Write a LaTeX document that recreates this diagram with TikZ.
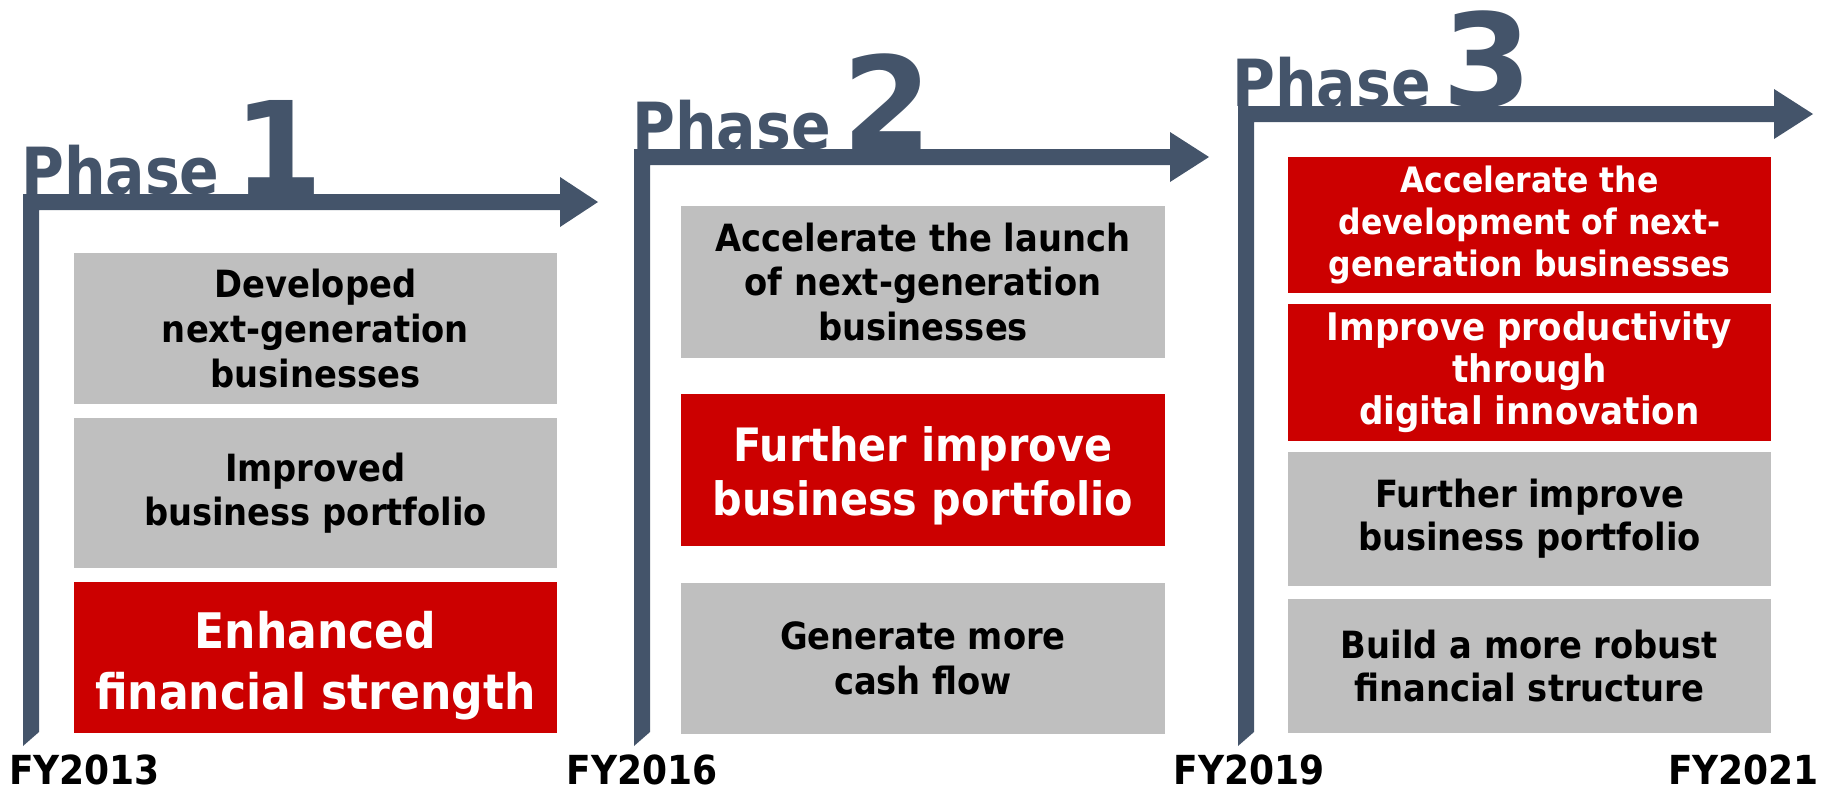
\documentclass[tikz,border=0pt]{standalone}
\usepackage{fontspec}
\setmainfont{DejaVu Sans Condensed}[BoldFont={DejaVu Sans Condensed Bold}]
\newfontfamily\widefont{DejaVu Sans}
\definecolor{navy}{HTML}{44546A}
\definecolor{redbox}{HTML}{CC0000}
\definecolor{graybox}{HTML}{BFBFBF}
\tikzset{
 box/.style={minimum width=483pt, inner sep=0pt, align=center, font=\bfseries\fontsize{37.5}{44.7}\selectfont},
 graybx/.style={box, fill=graybox, text=black},
 redbx/.style={box, fill=redbox, text=white},
 boxtxt/.style={inner sep=0pt, align=center, text=white},
 phasetxt/.style={anchor=base west, inner sep=0pt, text=navy, font=\bfseries\fontsize{65}{70}\selectfont},
 phasenum/.style={anchor=base west, inner sep=0pt, text=navy, font=\widefont\bfseries\fontsize{129}{130}\selectfont},
 fylbl/.style={anchor=base, inner sep=0pt, text depth=0pt, font=\bfseries\fontsize{40}{42}\selectfont},
 barshape/.style={fill=navy, draw=none}
}
\begin{document}
\begin{tikzpicture}[x=1pt,y=-1pt]
\path[use as bounding box] (0,0) rectangle (1822,790);
% Phase arrows
\fill[barshape] (23,746) -- (23,194) -- (560,194) -- (560,177) -- (598,202) -- (560,227) -- (560,210) -- (39,210) -- (39,732) -- cycle;
\fill[barshape] (634,746) -- (634,149) -- (1170,149) -- (1170,132) -- (1209,157) -- (1170,182) -- (1170,165) -- (650,165) -- (650,732) -- cycle;
\fill[barshape] (1238,746) -- (1238,106) -- (1774,106) -- (1774,89) -- (1813,114) -- (1774,139) -- (1774,122) -- (1254,122) -- (1254,732) -- cycle;
% Phase headings
\node[phasetxt] (ph1) at (21,194) {Phase};
\node[phasenum] (n1) at (233,194) {1};
\node[phasetxt] (ph2) at (632,149) {Phase};
\node[phasenum] (n2) at (842,149) {2};
\node[phasetxt] (ph3) at (1232,106) {Phase};
\node[phasenum] (n3) at (1442,106) {3};
% Phase 1 boxes
\node[graybx, minimum height=151pt] (a1) at (315.5,328.5) {Developed\\next-generation\\businesses};
\node[graybx, minimum height=150pt] (a2) at (315.5,493) {Improved\\business portfolio};
\node[redbx, minimum height=151pt] (a3) at (315.5,657.5) {};
\node[boxtxt, font=\bfseries\fontsize{49}{61}\selectfont] (a3t) at ([yshift=-8pt]a3.center) {Enhanced\\financial strength};
% Phase 2 boxes
\node[graybx, minimum width=484pt, minimum height=152pt] (b1) at (923,282) {Accelerate the launch\\of next-generation\\businesses};
\node[redbx, minimum width=484pt, minimum height=152pt] (b2) at (923,470) {};
\node[boxtxt, font=\bfseries\fontsize{46}{54}\selectfont] (b2t) at ([yshift=-6pt]b2.center) {Further improve\\business portfolio};
\node[graybx, minimum width=484pt, minimum height=151pt] (b3) at (923,658.5) {Generate more\\cash flow};
% Phase 3 boxes
\node[redbx, minimum height=136pt, font=\bfseries\fontsize{35}{42}\selectfont] (c1) at (1529.5,225) {Accelerate the\\development of next-\\generation businesses};
\node[redbx, minimum height=137pt, font=\bfseries\fontsize{38}{42}\selectfont] (c2) at (1529.5,372.5) {Improve productivity\\through\\digital innovation};
\node[graybx, minimum height=134pt, font=\bfseries\fontsize{37.5}{43}\selectfont] (c3) at (1529.5,519) {Further improve\\business portfolio};
\node[graybx, minimum height=134pt, font=\bfseries\fontsize{37.5}{43}\selectfont] (c4) at (1529.5,666) {Build a more robust\\financial structure};
% FY labels
\node[fylbl, anchor=base west] (fy1) at (9,784) {FY2013};
\node[fylbl] (fy2) at (642,784) {FY2016};
\node[fylbl] (fy3) at (1249,784) {FY2019};
\node[fylbl, anchor=base east] (fy4) at (1819,784) {FY2021};
\end{tikzpicture}
\end{document}
